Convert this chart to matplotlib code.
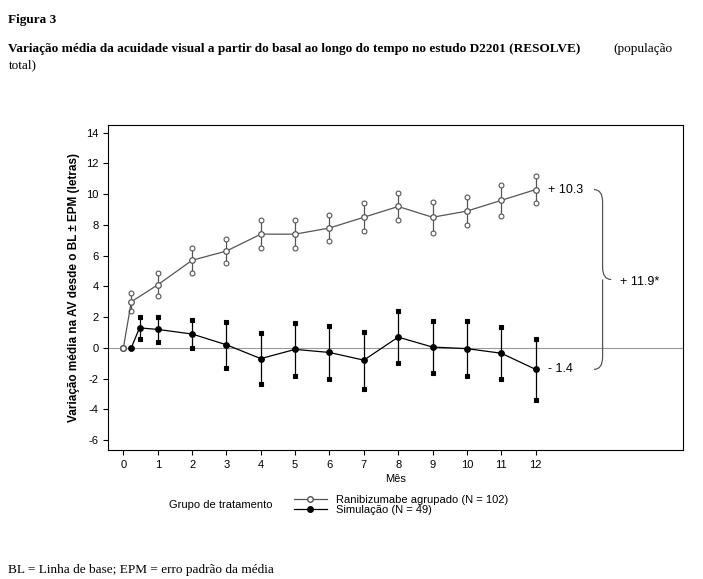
import matplotlib
matplotlib.use("Agg")
import matplotlib.pyplot as plt
from matplotlib.path import Path
from matplotlib.patches import PathPatch
from matplotlib.lines import Line2D

rani_x = [0, 0.23, 1, 2, 3, 4, 5, 6, 7, 8, 9, 10, 11, 12]
rani_y = [0, 3.0, 4.1, 5.7, 6.3, 7.4, 7.4, 7.8, 8.5, 9.2, 8.5, 8.9, 9.6, 10.3]
rani_e = [0, 0.6, 0.75, 0.8, 0.8, 0.9, 0.9, 0.85, 0.9, 0.85, 1.0, 0.9, 1.0, 0.9]
sham_x = [0.23, 0.47, 1, 2, 3, 4, 5, 6, 7, 8, 9, 10, 11, 12]
sham_y = [0, 1.3, 1.2, 0.9, 0.2, -0.7, -0.1, -0.3, -0.8, 0.7, 0.05, -0.05, -0.35, -1.4]
sham_e = [0, 0.7, 0.8, 0.9, 1.5, 1.65, 1.75, 1.7, 1.85, 1.7, 1.7, 1.8, 1.7, 2.0]
xticks = list(range(13))
yticks = list(range(-6, 15, 2))

plt.rcParams['font.family'] = ['Liberation Sans', 'DejaVu Sans']
plt.rcParams['axes.unicode_minus'] = False
fig = plt.figure(figsize=(7.03, 5.79), dpi=100)
ax = fig.add_axes([0.154, 0.223, 0.818, 0.561])
ax.set_xlim(-0.44, 16.3)
ax.set_ylim(-6.64, 14.5)
ax.axhline(0, color='#999999', lw=0.8, zorder=0)

def series(x, y, e, color, mfc, marker, ms_end):
    ax.errorbar(x, y, yerr=e, fmt='none', ecolor=color, elinewidth=0.9, capsize=0)
    lo = [a - b for a, b in zip(y, e)]
    hi = [a + b for a, b in zip(y, e)]
    for arr in (lo, hi):
        ax.plot([xx for xx, ee in zip(x, e) if ee > 0], [v for v, ee in zip(arr, e) if ee > 0],
                ls='none', marker=marker, ms=ms_end, mfc=mfc, mec=color, mew=0.8)
    ax.plot(x, y, color=color, lw=0.9, marker='o', ms=4, mfc=mfc, mec=color, mew=0.9)

series(rani_x, rani_y, rani_e, '#555555', 'white', 'o', 3.5)
series(sham_x, sham_y, sham_e, 'black', 'black', 's', 2.8)
ax.plot([0], [0], marker='o', ms=4, mfc='white', mec='#555555', ls='none')

ax.set_xticks(xticks)
ax.set_yticks(yticks)
ax.tick_params(labelsize=8)
ax.set_xlabel('Mês', fontsize=8, labelpad=3)
ax.set_ylabel('Variação média na AV desde o BL ± EPM (letras)', fontsize=8.5, fontweight='bold')

ax.text(12.35, 10.3, '+ 10.3', fontsize=9, va='center')
ax.text(12.35, -1.4, '- 1.4', fontsize=9, va='center')
ax.text(14.45, 4.3, '+ 11.9*', fontsize=9, va='center')

def brace(x0, y0, y1, w):
    ym = (y0 + y1) / 2
    verts = [(x0, y1), (x0 + w, y1), (x0 + w, y1 - 0.8),
             (x0 + w, ym + 0.8), (x0 + w, ym), (x0 + 2 * w, ym),
             (x0 + w, ym), (x0 + w, ym - 0.8),
             (x0 + w, y0 + 0.8), (x0 + w, y0), (x0, y0)]
    codes = [Path.MOVETO, Path.CURVE3, Path.CURVE3, Path.LINETO, Path.CURVE3, Path.CURVE3,
             Path.MOVETO, Path.CURVE3, Path.LINETO, Path.CURVE3, Path.CURVE3]
    ax.add_patch(PathPatch(Path(verts, codes), fc='none', ec='#555555', lw=0.9))
brace(13.7, -1.4, 10.3, 0.25)

fig.text(0.012, 0.975, 'Figura 3', family='Liberation Serif', fontweight='bold', fontsize=9.5, va='top')
fig.text(0.012, 0.925, 'Variação média da acuidade visual a partir do basal ao longo do tempo no estudo D2201 (RESOLVE)',
         family='Liberation Serif', fontweight='bold', fontsize=9.5, va='top')
fig.text(0.872, 0.925, '(população', family='Liberation Serif', fontsize=9.5, va='top')
fig.text(0.012, 0.897, 'total)', family='Liberation Serif', fontsize=9.5, va='top')
fig.text(0.012, 0.005, 'BL = Linha de base; EPM = erro padrão da média', family='Liberation Serif', fontsize=9.5, va='bottom')

fig.text(0.24, 0.128, 'Grupo de tratamento', fontsize=8, va='center')
h1 = Line2D([0], [0], color='#555555', lw=0.9, marker='o', ms=4, mfc='white', mec='#555555')
h2 = Line2D([0], [0], color='black', lw=0.9, marker='o', ms=4, mfc='black')
fig.legend([h1, h2], ['Ranibizumabe agrupado (N = 102)', 'Simulação (N = 49)'], loc='center left',
           bbox_to_anchor=(0.41, 0.128), frameon=False, fontsize=8, handlelength=3, labelspacing=0.05,
           borderpad=0, handletextpad=0.8)
fig.savefig('out.png', dpi=100)
